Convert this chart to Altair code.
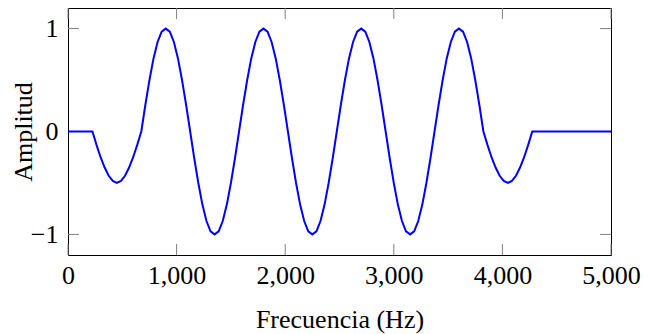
import altair as alt
import pandas as pd

# Frequency samples (Hz) and amplitude
freq = [0, 225, 262.5, 300, 337.5, 375, 412.5, 450, 487.5, 525, 562.5, 600, 637.5, 675,
        712.5, 750, 787.5, 825, 862.5, 900, 937.5, 975, 1012.5, 1050, 1087.5, 1125,
        1162.5, 1200, 1237.5, 1275, 1312.5, 1350, 1387.5, 1425, 1462.5, 1500, 1537.5, 1575,
        1612.5, 1650, 1687.5, 1725, 1762.5, 1800, 1837.5, 1875, 1912.5, 1950, 1987.5, 2025,
        2062.5, 2100, 2137.5, 2175, 2212.5, 2250, 2287.5, 2325, 2362.5, 2400, 2437.5, 2475,
        2512.5, 2550, 2587.5, 2625, 2662.5, 2700, 2737.5, 2775, 2812.5, 2850, 2887.5, 2925,
        2962.5, 3000, 3037.5, 3075, 3112.5, 3150, 3187.5, 3225, 3262.5, 3300, 3337.5, 3375,
        3412.5, 3450, 3487.5, 3525, 3562.5, 3600, 3637.5, 3675, 3712.5, 3750, 3787.5, 3825,
        3862.5, 3900, 3937.5, 3975, 4012.5, 4050, 4087.5, 4125, 4162.5, 4200, 4237.5, 4275,
        5000]
amp = [0, 0, -0.13, -0.25, -0.35, -0.43, -0.48, -0.5, -0.48, -0.43, -0.35, -0.25, -0.13, 0,
       0.26, 0.5, 0.71, 0.87, 0.97, 1, 0.97, 0.87, 0.71, 0.5, 0.26, 0,
       -0.26, -0.5, -0.71, -0.87, -0.97, -1, -0.97, -0.87, -0.71, -0.5, -0.26, 0,
       0.26, 0.5, 0.71, 0.87, 0.97, 1, 0.97, 0.87, 0.71, 0.5, 0.26, 0,
       -0.26, -0.5, -0.71, -0.87, -0.97, -1, -0.97, -0.87, -0.71, -0.5, -0.26, 0,
       0.26, 0.5, 0.71, 0.87, 0.97, 1, 0.97, 0.87, 0.71, 0.5, 0.26, 0,
       -0.26, -0.5, -0.71, -0.87, -0.97, -1, -0.97, -0.87, -0.71, -0.5, -0.26, 0,
       0.26, 0.5, 0.71, 0.87, 0.97, 1, 0.97, 0.87, 0.71, 0.5, 0.26, 0,
       -0.13, -0.25, -0.35, -0.43, -0.48, -0.5, -0.48, -0.43, -0.35, -0.25, -0.13, 0,
       0]
assert len(freq) == len(amp)

x_ticks = [0, 1000, 2000, 3000, 4000, 5000]
y_ticks = [-1, 0, 1]

W, H = 543, 247
TL = 11
FONT = "Liberation Serif"
FS = 26
TICK_COLOR = "#808080"

df = pd.DataFrame({"v": freq, "w": amp})
dx = pd.DataFrame({"v": x_ticks})
dy = pd.DataFrame({"w": y_ticks})

xscale = alt.Scale(domain=[0, 5000], nice=False, zero=False)
yscale = alt.Scale(domain=[-1.2, 1.2], nice=False, zero=False)
xaxis = alt.Axis(values=x_ticks, labelExpr="format(datum.value, ',')",
                 title="Frecuencia (Hz)", labelFlush=False,
                 labelBaseline="alphabetic", labelPadding=28,
                 titleBaseline="alphabetic", titleY=72)
yaxis = alt.Axis(values=y_ticks, labelExpr="format(datum.value, 'd')",
                 title="Amplitud", labelPadding=10,
                 titleBaseline="alphabetic", titleX=-37)

line = alt.Chart(df).mark_line(color="#0000ff", strokeWidth=2).encode(
    x=alt.X("v:Q", scale=xscale, axis=xaxis),
    y=alt.Y("w:Q", scale=yscale, axis=yaxis),
)

bottom_ticks = alt.Chart(dx).mark_rule(color=TICK_COLOR, strokeWidth=1).encode(
    x=alt.X("v:Q", scale=xscale, axis=xaxis),
    y=alt.value(H), y2=alt.value(H - TL))
top_ticks = alt.Chart(dx).mark_rule(color=TICK_COLOR, strokeWidth=1).encode(
    x=alt.X("v:Q", scale=xscale, axis=xaxis),
    y=alt.value(0), y2=alt.value(TL))
left_ticks = alt.Chart(dy).mark_rule(color=TICK_COLOR, strokeWidth=1).encode(
    y=alt.Y("w:Q", scale=yscale, axis=yaxis),
    x=alt.value(0), x2=alt.value(TL))
right_ticks = alt.Chart(dy).mark_rule(color=TICK_COLOR, strokeWidth=1).encode(
    y=alt.Y("w:Q", scale=yscale, axis=yaxis),
    x=alt.value(W - TL), x2=alt.value(W))

chart = alt.layer(bottom_ticks, top_ticks, left_ticks, right_ticks, line).properties(
    width=W, height=H,
    autosize=alt.AutoSizeParams(type="none"),
    padding={"left": 60, "top": 0, "right": 30, "bottom": 79},
).configure_view(stroke="black", strokeWidth=1).configure_axis(
    labelFont=FONT, labelFontSize=FS, labelColor="black",
    titleFont=FONT, titleFontSize=FS, titleFontWeight="normal", titleColor="black",
    ticks=False, domain=False, grid=False,
)

chart.save("out.html", embed_options={"renderer": "svg", "actions": False})
